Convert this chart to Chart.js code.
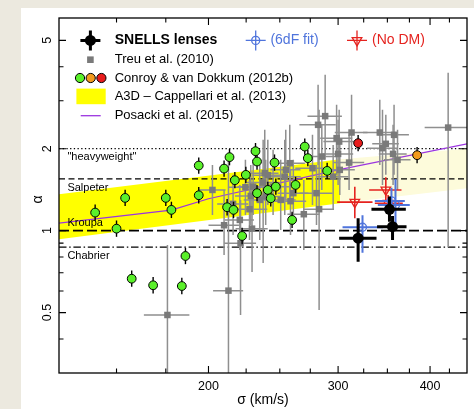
<!DOCTYPE html>
<html>
<head>
<meta charset="utf-8">
<script src="https://cdn.jsdelivr.net/npm/chart.js@4.4.1/dist/chart.umd.min.js"></script>
<style>
  html, body { margin: 0; padding: 0; width: 474px; height: 409px; overflow: hidden; background: #ece9df; }
  #panel { position: absolute; left: 21px; top: 8px; width: 453px; height: 401px; background: #fff; }
  canvas { display: block; }
</style>
</head>
<body>
<div id="panel"><canvas id="imfChart" width="453" height="401"></canvas></div>
<script>
// axis ranges and ticks
const sigmaRange = [125.3, 449];
const alphaRange = [0.3, 6.04];
const xMajorTicks = [200, 300, 400];
const xMinorTicks = [150, 175, 225, 250, 275, 325, 350, 375, 425];
const yMajorTicks = [0.5, 1, 2, 5];
const yMinorTicks = [0.4, 0.6, 0.7, 0.8, 0.9, 3, 4];

// Treu et al. (2010): sigma (km/s), alpha, sigma error, alpha range
const treuSigma = [175.9, 212.9, 202.5, 210.0, 221.1, 229.2, 227.4, 224.5, 228.3, 237.3, 240.8, 253.9,
  257.9, 258.5, 260.8, 269.5, 276.9, 280.4, 282.7, 281.8, 288.1, 285.1, 295.4, 298.6, 300.0, 301.0,
  310.5, 312.9, 341.8, 344.7, 348.3, 357.4, 356.3, 361.3, 423.3, 216.0, 220.6, 234.8, 244.8, 250.7,
  238.5, 239.2, 254.7, 301.6, 230.0];
const treuAlpha = [0.490, 0.602, 1.411, 1.047, 0.899, 1.017, 1.199, 1.444, 1.341, 1.501, 1.599, 1.579,
  1.769, 1.283, 1.373, 1.149, 1.696, 1.373, 1.199, 2.447, 2.634, 1.871, 1.579, 2.186, 1.914, 2.124,
  1.778, 2.293, 2.293, 2.009, 2.084, 2.248, 1.914, 1.820, 2.391, 1.254, 1.095, 1.297, 1.451, 1.297,
  1.626, 1.334, 1.672, 1.672, 1.451];
const treuSigmaErr = [12.5, 10, 8.5, 10, 11, 11.5, 13, 11.5, 11, 12, 11.5, 13,
  12.5, 13, 12.5, 13.5, 14.5, 14.5, 13.5, 16, 15.5, 15, 14.5, 15, 14.5, 14.5,
  15, 16, 17.5, 16.5, 14.5, 17, 15.5, 15, 30, 10.5, 10, 11.5, 12.5, 12,
  10.5, 11.5, 12, 14.5, 11];
const treuAlphaLo = [0.28, 0.28, 1.142, 0.814, 0.490, 0.705, 0.924, 1.142, 1.049, 0.761, 1.243, 1.142,
  1.297, 0.964, 1.049, 0.849, 1.243, 1.049, 0.511, 1.744, 1.820, 1.411, 1.191, 1.603, 1.472, 1.672,
  1.411, 1.744, 1.744, 1.472, 1.603, 1.603, 1.472, 1.411, 0.871, 0.964, 0.849, 0.924, 1.142, 1.006,
  1.297, 1.049, 1.297, 1.353, 1.142];
const treuAlphaHi = [0.886, 1.90, 1.744, 1.411, 1.297, 1.411, 1.536, 1.820, 1.744, 2.155, 2.155, 2.155,
  2.447, 1.672, 1.820, 1.536, 2.248, 1.744, 2.778, 3.434, 3.736, 2.447, 2.065, 2.899, 2.553, 2.778,
  2.248, 3.155, 3.023, 2.778, 2.663, 2.899, 2.447, 2.346, 3.80, 1.603, 1.472, 1.744, 1.980, 1.820,
  2.346, 1.820, 2.346, 2.155, 1.820];

// Conroy & van Dokkum (2012b); the last two are the orange and red galaxies
const cvdSigma = [140.3, 150.0, 154.1, 157.3, 168.2, 175.0, 178.1, 184.0, 186.1, 194.0, 194.0, 210.0,
  213.6, 212.0, 216.3, 217.2, 222.2, 224.8, 231.7, 232.8, 232.8, 240.8, 243.0, 245.9, 246.9, 259.8,
  262.6, 270.3, 272.9, 289.9, 384.1, 319.4];
const cvdAlpha = [1.165, 1.017, 1.319, 0.666, 0.630, 1.319, 1.192, 0.626, 0.807, 1.734, 1.349, 1.690,
  1.862, 1.219, 1.192, 1.532, 0.956, 1.603, 1.958, 1.794, 1.373, 1.411, 1.315, 1.778, 1.451, 1.095,
  1.472, 2.036, 1.846, 1.658, 1.893, 2.096];
const cvdAlphaErrDex = 0.03;

// SNELLS lenses, with 6dF-fit and no-dark-matter variants
const snellsSigma = [319.4, 352.3, 355.7];
const snellsAlpha = [0.938, 1.198, 1.034];
const snellsSigmaLo = [301.0, 333.0, 338.9];
const snellsSigmaHi = [338.3, 370.8, 371.6];
const snellsAlphaLo = [0.769, 1.079, 0.924];
const snellsAlphaHi = [1.111, 1.334, 1.132];

const sixdfSigma = [323.8, 354.5, 359.0];
const sixdfAlpha = [1.029, 1.286, 1.243];
const sixdfSigmaLo = [304.2, 336.5, 339.7];
const sixdfSigmaHi = [345.4, 369.6, 375.4];
const sixdfAlphaLo = [0.83, 1.212, 1.023];
const sixdfAlphaHi = [1.14, 1.436, 1.549];

const nodmSigma = [316.1, 348.3, 350.8];
const nodmAlpha = [1.273, 1.411, 1.261];
const nodmSigmaLo = [299.1, 330.6, 336.5];
const nodmSigmaHi = [334.1, 365.8, 367.3];
const nodmAlphaLo = [1.110, 1.278, 1.171];
const nodmAlphaHi = [1.451, 1.571, 1.353];

// Posacki et al. (2015) relation
const posackiSigma = [125.3, 178, 200, 300, 449];
const posackiAlpha = [1.065, 1.19, 1.31, 1.672, 2.084];

// ATLAS3D band (Cappellari et al. 2013) and its extrapolation
const a3dSigma = [125.3, 302];
const a3dLo = [0.930, 1.261];
const a3dHi = [1.361, 1.830];
const a3dExtSigma = [302, 449];
const a3dExtLo = [1.261, 1.432];
const a3dExtHi = [1.830, 1.997];

// reference IMFs
const imfNames = ['"heavyweight"', 'Salpeter', 'Kroupa', 'Chabrier'];
const imfAlpha = [2.0, 1.55, 1.0, 0.87];

const FONT = '"Liberation Sans", Arial, Helvetica, sans-serif';
const GREEN = '#5af02a', ORANGE = '#f29a1d', RED = '#e81c1c';
const BLUE = '#4f74dc', NODM_RED = '#e5231f', PURPLE = '#9b35e0';

const toPoints = (xs, ys) => xs.map((x, i) => ({ x, y: ys[i] }));
const withErrors = (xs, ys, xlo, xhi, ylo, yhi) =>
  xs.map((x, i) => ({ x, y: ys[i], xMin: xlo[i], xMax: xhi[i], yMin: ylo[i], yMax: yhi[i] }));

const treuPoints = withErrors(treuSigma, treuAlpha,
  treuSigma.map((s, i) => s - treuSigmaErr[i]), treuSigma.map((s, i) => s + treuSigmaErr[i]),
  treuAlphaLo, treuAlphaHi);
const cvdPoints = cvdSigma.map((s, i) => ({
  x: s, y: cvdAlpha[i],
  yMin: cvdAlpha[i] / Math.pow(10, cvdAlphaErrDex), yMax: cvdAlpha[i] * Math.pow(10, cvdAlphaErrDex)
}));
const cvdFill = cvdSigma.map((_, i) => i < cvdSigma.length - 2 ? GREEN : (i === cvdSigma.length - 2 ? ORANGE : RED));

const imfDash = [[1.3, 2.4], [6, 3.5], [10, 4], [7.5, 2.7, 1.5, 2.7]];
const imfWidth = [1.2, 1.3, 1.6, 1.2];

// error bars are drawn right before the points of their own dataset
const errorBars = {
  id: 'errorBars',
  beforeDatasetDraw(chart, args) {
    const ds = chart.data.datasets[args.index];
    if (!ds.errorBars) return;
    const { ctx, chartArea: a, scales: { x, y } } = chart;
    ctx.save();
    ctx.beginPath();
    ctx.rect(a.left, a.top, a.right - a.left, a.bottom - a.top);
    ctx.clip();
    ctx.strokeStyle = ds.errorBars.color;
    ctx.lineWidth = ds.errorBars.width;
    ds.data.forEach(p => {
      const px = x.getPixelForValue(p.x), py = y.getPixelForValue(p.y);
      ctx.beginPath();
      if (p.xMin !== undefined) {
        ctx.moveTo(x.getPixelForValue(p.xMin), py);
        ctx.lineTo(x.getPixelForValue(p.xMax), py);
      }
      if (p.yMin !== undefined) {
        ctx.moveTo(px, y.getPixelForValue(p.yMin));
        ctx.lineTo(px, y.getPixelForValue(p.yMax));
      }
      ctx.stroke();
    });
    ctx.restore();
  }
};

function cross(ctx, x, y, arm, color, width) {
  ctx.strokeStyle = color;
  ctx.lineWidth = width;
  ctx.beginPath();
  ctx.moveTo(x - arm, y); ctx.lineTo(x + arm, y);
  ctx.moveTo(x, y - arm); ctx.lineTo(x, y + arm);
  ctx.stroke();
}

// frame, inward ticks, tick labels, titles, IMF labels and the legend
const decorations = {
  id: 'decorations',
  afterDraw(chart) {
    const { ctx, chartArea: a, scales: { x, y } } = chart;
    ctx.save();
    ctx.strokeStyle = '#000';
    ctx.lineWidth = 1.3;
    ctx.strokeRect(a.left, a.top, a.right - a.left, a.bottom - a.top);

    ctx.lineWidth = 1.1;
    const xTick = (v, len) => {
      const px = x.getPixelForValue(v);
      ctx.beginPath();
      ctx.moveTo(px, a.bottom); ctx.lineTo(px, a.bottom - len);
      ctx.moveTo(px, a.top); ctx.lineTo(px, a.top + len);
      ctx.stroke();
    };
    const yTick = (v, len) => {
      const py = y.getPixelForValue(v);
      ctx.beginPath();
      ctx.moveTo(a.left, py); ctx.lineTo(a.left + len, py);
      ctx.moveTo(a.right, py); ctx.lineTo(a.right - len, py);
      ctx.stroke();
    };
    xMajorTicks.forEach(v => xTick(v, 7));
    xMinorTicks.forEach(v => xTick(v, 4.5));
    yMajorTicks.forEach(v => yTick(v, 7));
    yMinorTicks.forEach(v => yTick(v, 4.5));

    ctx.fillStyle = '#000';
    ctx.textAlign = 'center';
    ctx.textBaseline = 'middle';
    ctx.font = '12.5px ' + FONT;
    xMajorTicks.forEach(v => ctx.fillText(String(v), x.getPixelForValue(v), a.bottom + 13.5));
    yMajorTicks.forEach(v => {
      ctx.save();
      ctx.translate(a.left - 11, y.getPixelForValue(v));
      ctx.rotate(-Math.PI / 2);
      ctx.fillText(String(v), 0, 0);
      ctx.restore();
    });
    ctx.font = '14px ' + FONT;
    ctx.fillText('σ (km/s)', (a.left + a.right) / 2, a.bottom + 27);
    ctx.save();
    ctx.translate(a.left - 21, (a.top + a.bottom) / 2 + 4);
    ctx.rotate(-Math.PI / 2);
    ctx.fillText('α', 0, 0);
    ctx.restore();

    // IMF labels next to their lines
    ctx.textAlign = 'left';
    ctx.font = '11px ' + FONT;
    const labelShift = [8, 9, -8, 8.5];
    imfNames.forEach((name, i) => {
      ctx.fillText(name, a.left + 8.4, y.getPixelForValue(imfAlpha[i]) + labelShift[i]);
    });

    // legend
    const lx = a.left + 31.4;
    const tx = a.left + 55.7;
    const rows = [a.top + 22.4, a.top + 41.7, a.top + 60, a.top + 78.4, a.top + 97.7];

    cross(ctx, lx, rows[0], 10, '#000', 3);
    ctx.fillStyle = '#000';
    ctx.beginPath(); ctx.arc(lx, rows[0], 5.5, 0, Math.PI * 2); ctx.fill();
    ctx.font = 'bold 14px ' + FONT;
    ctx.fillText('SNELLS lenses', tx, rows[0]);

    const bx = a.left + 196.7;
    cross(ctx, bx, rows[0], 10, BLUE, 1.3);
    ctx.strokeStyle = BLUE;
    ctx.beginPath(); ctx.arc(bx, rows[0], 4, 0, Math.PI * 2); ctx.stroke();
    ctx.fillStyle = BLUE;
    ctx.font = '14px ' + FONT;
    ctx.fillText('(6dF fit)', a.left + 211.4, rows[0]);

    const rx = a.left + 298;
    cross(ctx, rx, rows[0], 10, NODM_RED, 1.3);
    ctx.strokeStyle = NODM_RED;
    ctx.beginPath();
    ctx.moveTo(rx - 4.8, rows[0] - 2.7); ctx.lineTo(rx + 4.8, rows[0] - 2.7); ctx.lineTo(rx, rows[0] + 5.5);
    ctx.closePath(); ctx.stroke();
    ctx.fillStyle = NODM_RED;
    ctx.fillText('(No DM)', a.left + 313, rows[0]);

    ctx.font = '13px ' + FONT;
    ctx.fillStyle = '#7a7a7a';
    ctx.fillRect(lx - 3.3, rows[1] - 3.3, 6.6, 6.6);
    ctx.fillStyle = '#000';
    ctx.fillText('Treu et al. (2010)', tx, rows[1]);

    [GREEN, ORANGE, RED].forEach((c, i) => {
      ctx.fillStyle = c;
      ctx.strokeStyle = '#000';
      ctx.lineWidth = 1;
      ctx.beginPath(); ctx.arc(a.left + 21 + i * 10.7, rows[2], 4.6, 0, Math.PI * 2);
      ctx.fill(); ctx.stroke();
    });
    ctx.fillStyle = '#000';
    ctx.fillText('Conroy & van Dokkum (2012b)', tx, rows[2]);

    ctx.fillStyle = '#ffff00';
    ctx.fillRect(a.left + 17.4, rows[3] - 7.8, 29.3, 15.6);
    ctx.fillStyle = '#000';
    ctx.fillText('A3D \u2013 Cappellari et al. (2013)', tx, rows[3]);

    ctx.strokeStyle = PURPLE;
    ctx.lineWidth = 1.3;
    ctx.beginPath(); ctx.moveTo(a.left + 21.7, rows[4]); ctx.lineTo(a.left + 41.7, rows[4]); ctx.stroke();
    ctx.fillText('Posacki et al. (2015)', tx, rows[4]);
    ctx.restore();
  }
};

const lineSet = (data, extra) => Object.assign({
  type: 'line', data, pointRadius: 0, tension: 0, fill: false
}, extra);

const datasets = [
  // 0,1: ATLAS3D band
  lineSet(toPoints(a3dSigma, a3dHi), { borderWidth: 0, backgroundColor: '#ffff00', fill: '+1', order: 30 }),
  lineSet(toPoints(a3dSigma, a3dLo), { borderWidth: 0, order: 30 }),
  // 2,3: its pale extension
  lineSet(toPoints(a3dExtSigma, a3dExtHi), { borderWidth: 0, backgroundColor: '#fdfbdb', fill: '+1', order: 31 }),
  lineSet(toPoints(a3dExtSigma, a3dExtLo), { borderWidth: 0, order: 31 })
];

imfAlpha.forEach((a, i) => {
  datasets.push(lineSet(toPoints(sigmaRange, [a, a]), {
    borderColor: '#000', borderWidth: imfWidth[i], borderDash: imfDash[i], order: 20
  }));
});

datasets.push(lineSet(toPoints(posackiSigma, posackiAlpha), { borderColor: PURPLE, borderWidth: 1.2, order: 15 }));

datasets.push({
  label: 'Treu et al. (2010)', data: treuPoints, pointStyle: 'rect', pointRadius: 4.6,
  backgroundColor: '#7a7a7a', borderWidth: 0, order: 10,
  errorBars: { color: '#8f8f8f', width: 1.5 }
});
datasets.push({
  label: 'Conroy & van Dokkum (2012b)', data: cvdPoints, pointRadius: 4.4,
  backgroundColor: cvdFill, borderColor: '#000', borderWidth: 1, order: 8,
  errorBars: { color: '#000', width: 1.4 }
});
datasets.push({
  label: '(No DM)', data: withErrors(nodmSigma, nodmAlpha, nodmSigmaLo, nodmSigmaHi, nodmAlphaLo, nodmAlphaHi),
  pointStyle: 'triangle', rotation: 180, pointRadius: 5.5, backgroundColor: 'rgba(0,0,0,0)',
  borderColor: NODM_RED, borderWidth: 1.3, order: 5,
  errorBars: { color: NODM_RED, width: 1.6 }
});
datasets.push({
  label: '(6dF fit)', data: withErrors(sixdfSigma, sixdfAlpha, sixdfSigmaLo, sixdfSigmaHi, sixdfAlphaLo, sixdfAlphaHi),
  pointRadius: 4, backgroundColor: 'rgba(0,0,0,0)', borderColor: BLUE, borderWidth: 1.3, order: 4,
  errorBars: { color: BLUE, width: 2 }
});
datasets.push({
  label: 'SNELLS lenses', data: withErrors(snellsSigma, snellsAlpha, snellsSigmaLo, snellsSigmaHi, snellsAlphaLo, snellsAlphaHi),
  pointRadius: 5.5, backgroundColor: '#000', borderWidth: 0, order: 1,
  errorBars: { color: '#000', width: 3 }
});

new Chart(document.getElementById('imfChart'), {
  type: 'scatter',
  data: { datasets },
  options: {
    responsive: false,
    animation: false,
    events: [],
    layout: { padding: { left: 38, top: 10, right: 7, bottom: 36 } },
    scales: {
      x: { type: 'logarithmic', min: sigmaRange[0], max: sigmaRange[1], display: false },
      y: { type: 'logarithmic', min: alphaRange[0], max: alphaRange[1], display: false }
    },
    plugins: { legend: { display: false }, tooltip: { enabled: false } }
  },
  plugins: [errorBars, decorations]
});
</script>
</body>
</html>
